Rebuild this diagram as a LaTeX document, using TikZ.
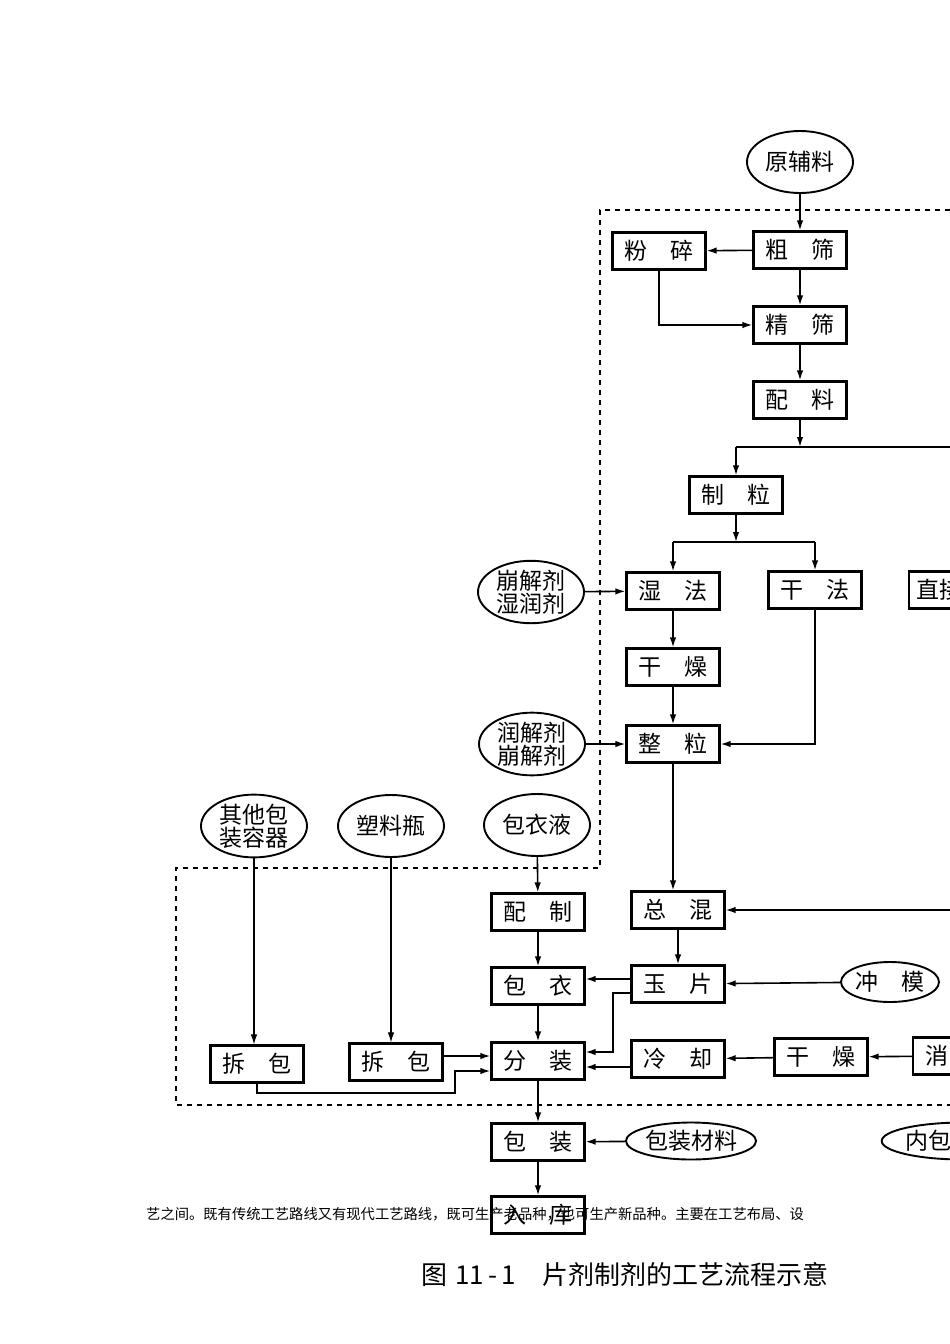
\documentclass[tikz,border=0pt]{standalone}
\usepackage{fontspec}
\newfontfamily\cjk{Noto Sans CJK SC}
\usepackage{tikz}
\usetikzlibrary{shapes.geometric,arrows.meta}
\tikzset{
  stage/.style={rectangle, draw, line width=2.2pt, minimum width=93pt, minimum height=37pt, inner sep=0pt, font=\cjk\fontsize{23}{23}\selectfont},
  feed/.style={ellipse, draw, line width=1.9pt, minimum width=106pt, minimum height=62pt, inner sep=0pt, align=center, font=\cjk\fontsize{23}{23}\selectfont},
  flow/.style={-{Latex[length=10pt,width=6.5pt]}, line width=1.6pt},
  thinflow/.style={-{Latex[length=10pt,width=6.5pt]}, line width=1.1pt},
  border/.style={dash pattern=on 5pt off 5pt, line width=1.8pt}
}
\newcommand{\gystage}[3] {\node at (#1) (#2) [stage] {#3};}
\newcommand{\gyfeed}[3] {\node at (#1) (#2) [feed] {#3};}
\newcommand{\gyflow}[2] {\draw [flow] (#1) -- (#2);}
\begin{document}
\begin{tikzpicture}[x=1pt,y=-1pt]
\useasboundingbox (0,0) rectangle (950,1344);
\clip (0,0) rectangle (950,1344);
\fill [white] (0,0) rectangle (950,1344);

% upper part: preparing the granules
\gyfeed {800,162}{raw}{原辅料}
\gystage {800,250}{coarse}{粗\quad 筛}
\gystage {659,251}{crush}{粉\quad 碎}
\gystage {800,325}{fine}{精\quad 筛}
\gystage {800,400}{dose}{配\quad 料}
\coordinate (fork1) at (736,447);
\coordinate (fork1r) at (960,447);
\gystage {736,495}{gran}{制\quad 粒}
\coordinate (fork2l) at (673,542);
\coordinate (fork2r) at (815,542);
\gystage {673,591}{wet}{湿\quad 法}
\gystage {815,590}{dry}{干\quad 法}
\node at (908,590) (direct) [stage, anchor=west, inner xsep=7pt] {直接压片};
\gyfeed {531,592}{wetaid}{崩解剂\\湿润剂}
\gystage {673,667}{dryer}{干\quad 燥}
\gystage {673,744}{sizing}{整\quad 粒}
\gyfeed {532,744}{lubaid}{润解剂\\崩解剂}

% lower part: tablets and packing
\gyfeed {254,826}{othercont}{其他包\\装容器}
\gyfeed {391,826}{bottle}{塑料瓶}
\gyfeed {537,825}{coatliq}{包衣液}
\gystage {538,912}{prep}{配\quad 制}
\gystage {538,986}{coat}{包\quad 衣}
\gystage {538,1061}{portion}{分\quad 装}
\gystage {257,1064}{unpackA}{拆\quad 包}
\gystage {396,1062}{unpackB}{拆\quad 包}
\gystage {678,910}{blend}{总\quad 混}
\coordinate (blendr) at (960,910);
\gystage {678,984}{press}{玉\quad 片}
\gystage {678,1059}{cool}{冷\quad 却}
\gystage {821,1057}{dryB}{干\quad 燥}
\node at (912,1056) (sterile) [stage, anchor=west] {消\quad 毒};
\node at (890,982) (die) [feed, minimum width=98pt, minimum height=40pt] {冲\quad 模};
\gystage {538,1142}{pack}{包\quad 装}
\node at (691,1141) (packmat) [feed, minimum width=128pt, minimum height=37pt] {包装材料};
\node at (963,1141) (innerpack) [feed, minimum width=128pt, minimum height=37pt] {内包装材料};
\gystage {538,1215}{store}{入\quad 库}

\draw [border] (960,210) -- (600,210) -- (600,868) -- (176,868) -- (176,1105) -- (960,1105);

\gyflow {raw}{coarse}
\gyflow {coarse}{crush}
\gyflow {coarse}{fine}
\draw [flow] (crush) |- (fine);
\gyflow {fine}{dose}
\draw [flow] (dose) -- (dose |- fork1);
\draw [line width=1.6pt] (fork1r) -- (fork1);
\gyflow {fork1}{gran}
\draw [flow] (gran) -- (gran |- fork2l);
\draw [line width=1.6pt] (fork2l) -- (fork2r);
\gyflow {fork2l}{wet}
\gyflow {fork2r}{dry}
\gyflow {wetaid}{wet}
\gyflow {wet}{dryer}
\gyflow {dryer}{sizing}
\draw [flow] (dry) |- (sizing);
\gyflow {lubaid}{sizing}
\draw [flow] (sizing) -- (sizing |- blend.north);
\gyflow {blendr}{blend}
\gyflow {blend}{press}
\gyflow {die}{press}
\draw [flow] ([yshift=5pt]press.west) -- ([yshift=5pt]press.west -| coat.east);
\coordinate (pressk) at (613,1052);
\draw [flow] ([yshift=-9pt]press.west) -| (pressk) -- (pressk -| portion.east);
\draw [flow] ([yshift=-8pt]cool.west) -- ([yshift=-8pt]cool.west -| portion.east);
\gyflow {dryB}{cool}
\gyflow {sterile}{dryB}
\gyflow {coatliq}{prep}
\gyflow {prep}{coat}
\gyflow {coat}{portion}
\draw [thinflow] (othercont) -- (othercont |- unpackA.north);
\draw [thinflow] (bottle) -- (bottle |- unpackB.north);
\draw [flow] ([yshift=6pt]unpackB.east) -- ([yshift=6pt]unpackB.east -| portion.west);
\coordinate (unpackk) at (455,1093);
\draw [flow] (unpackA) |- (unpackk) |- ([yshift=-10pt]portion.west);
\gyflow {portion}{pack}
\gyflow {packmat}{pack}
\gyflow {pack}{store}

% text of the page over the figure, and the caption
\node at (146,1214) (note) [anchor=west, inner sep=0pt, font=\cjk\fontsize{14.3}{16}\selectfont] {艺之间。既有传统工艺路线又有现代工艺路线，既可生产老品种，也可生产新品种。主要在工艺布局、设};
\node at (421,1275) (caption) [anchor=west, inner sep=0pt, font=\cjk\fontsize{26}{28}\selectfont] {图\hspace{8pt}11\,-\,1\hspace{26pt}片剂制剂的工艺流程示意};
\end{tikzpicture}
\end{document}
